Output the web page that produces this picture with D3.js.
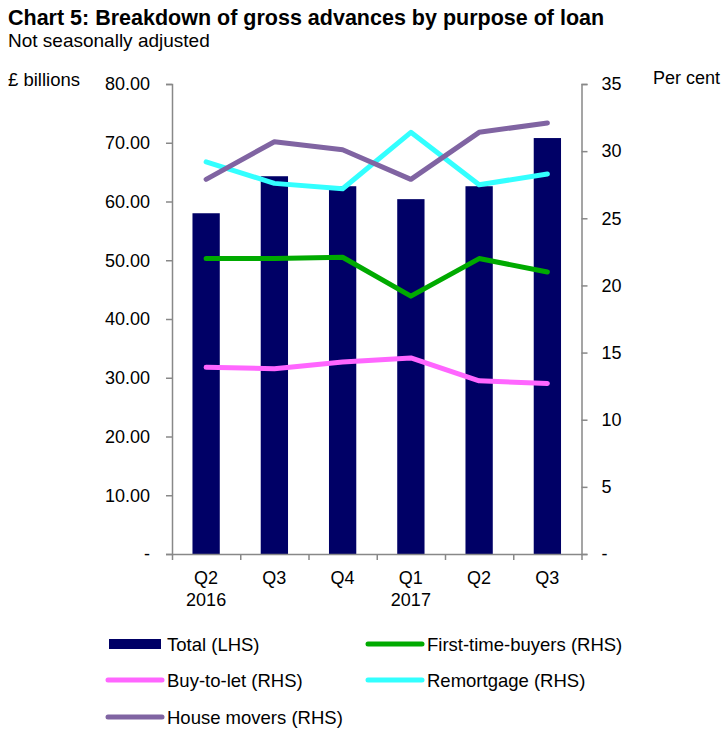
<!DOCTYPE html>
<html>
<head>
<meta charset="utf-8">
<script src="https://cdn.jsdelivr.net/npm/d3@7"></script>
<style>
  body { margin: 0; background: #fff; }
  text { font-family: "Liberation Sans", Arial, sans-serif; fill: #000; }
</style>
</head>
<body>
<div id="chart"></div>
<script>
// quarters on the x axis
var quarters = ["Q2 2016", "Q3 2016", "Q4 2016", "Q1 2017", "Q2 2017", "Q3 2017"];
var quarterLabels = ["Q2", "Q3", "Q4", "Q1", "Q2", "Q3"];
var yearLabels = ["2016", "", "", "2017", "", ""];

// Total gross advances, £ billions (LHS)
var total = [58.0, 64.3, 62.6, 60.4, 62.6, 70.8];

// shares by purpose, per cent (RHS)
var firstTimeBuyers = [22.0, 22.0, 22.1, 19.2, 22.0, 21.0];
var buyToLet = [13.9, 13.8, 14.3, 14.6, 12.9, 12.7];
var remortgage = [29.2, 27.6, 27.2, 31.4, 27.5, 28.3];
var houseMovers = [27.9, 30.7, 30.1, 27.9, 31.4, 32.1];

var leftTicks = [0, 10, 20, 30, 40, 50, 60, 70, 80];
var rightTicks = [0, 5, 10, 15, 20, 25, 30, 35];

var width = 724, height = 729;
var plot = { left: 172, right: 581.5, top: 84, bottom: 554 };

var svg = d3.select("#chart").append("svg")
    .attr("width", width)
    .attr("height", height);

// titles
svg.append("text").attr("x", 8).attr("y", 25)
    .style("font-size", "21.5px").style("font-weight", "bold")
    .text("Chart 5: Breakdown of gross advances by purpose of loan");
svg.append("text").attr("x", 8).attr("y", 47)
    .style("font-size", "19px")
    .text("Not seasonally adjusted");
svg.append("text").attr("x", 8).attr("y", 86)
    .style("font-size", "18.5px").text("£ billions");
svg.append("text").attr("x", 653).attr("y", 84)
    .style("font-size", "18px").text("Per cent");

// scales
var x = d3.scaleBand().domain(quarters).range([plot.left, plot.right]);
var yLeft = d3.scaleLinear().domain([0, 80]).range([plot.bottom, plot.top]);
var yRight = d3.scaleLinear().domain([0, 35]).range([plot.bottom, plot.top]);

// bars
svg.append("g").selectAll("rect")
    .data(total)
    .enter().append("rect")
    .attr("x", function(d, i) { return x(quarters[i]) + x.bandwidth() * 0.3; })
    .attr("width", x.bandwidth() * 0.4)
    .attr("y", function(d) { return yLeft(d); })
    .attr("height", function(d) { return yLeft(0) - yLeft(d); })
    .attr("fill", "#000066");

// lines
var series = [
    { name: "First-time-buyers (RHS)", values: firstTimeBuyers, color: "#00AA00" },
    { name: "Buy-to-let (RHS)", values: buyToLet, color: "#FF66FF" },
    { name: "Remortgage (RHS)", values: remortgage, color: "#33FFFF" },
    { name: "House movers (RHS)", values: houseMovers, color: "#8064A2" }
];

var line = d3.line()
    .x(function(d, i) { return x(quarters[i]) + x.bandwidth() / 2; })
    .y(function(d) { return yRight(d); });

series.forEach(function(s) {
    svg.append("path")
        .datum(s.values)
        .attr("d", line)
        .attr("fill", "none")
        .attr("stroke", s.color)
        .attr("stroke-width", 5)
        .attr("stroke-linecap", "round")
        .attr("stroke-linejoin", "round");
});

// axes
function styleAxis(g) {
    g.select(".domain").attr("stroke", "#888").attr("stroke-width", 1.5);
    g.selectAll(".tick line").attr("stroke", "#888").attr("stroke-width", 1.5);
    g.selectAll(".tick text").style("font-size", "18px")
        .style("font-family", "'Liberation Sans', Arial, sans-serif").attr("fill", "#000");
}

var leftAxis = d3.axisLeft(yLeft).tickValues(leftTicks)
    .tickSize(6).tickSizeOuter(6).tickPadding(16)
    .tickFormat(function(d) { return d === 0 ? "-" : d3.format(".2f")(d); });
svg.append("g")
    .attr("transform", "translate(" + plot.left + ",0)")
    .call(leftAxis)
    .call(styleAxis);

var rightAxis = d3.axisRight(yRight).tickValues(rightTicks)
    .tickSize(6).tickSizeOuter(6).tickPadding(14)
    .tickFormat(function(d) { return d === 0 ? "-" : d; });
svg.append("g")
    .attr("transform", "translate(" + plot.right + ",0)")
    .call(rightAxis)
    .call(styleAxis);

// x axis: ticks on the band edges
var xTickScale = d3.scaleLinear().domain([0, quarters.length]).range([plot.left, plot.right]);
var xAxis = d3.axisBottom(xTickScale).tickValues(d3.range(0, quarters.length + 1))
    .tickSize(6).tickSizeOuter(0).tickFormat("");
svg.append("g")
    .attr("transform", "translate(0," + plot.bottom + ")")
    .call(xAxis)
    .call(styleAxis);

var xl = svg.append("g");
xl.selectAll(".q").data(quarterLabels).enter().append("text")
    .attr("x", function(d, i) { return x(quarters[i]) + x.bandwidth() / 2; })
    .attr("y", 584).attr("text-anchor", "middle")
    .style("font-size", "18px").text(function(d) { return d; });
xl.selectAll(".yr").data(yearLabels).enter().append("text")
    .attr("x", function(d, i) { return x(quarters[i]) + x.bandwidth() / 2; })
    .attr("y", 606).attr("text-anchor", "middle")
    .style("font-size", "18px").text(function(d) { return d; });

// legend
var legendItems = [
    { name: "Total (LHS)", color: "#000066", bar: true, col: 0, row: 0 },
    { name: series[0].name, color: series[0].color, col: 1, row: 0 },
    { name: series[1].name, color: series[1].color, col: 0, row: 1 },
    { name: series[2].name, color: series[2].color, col: 1, row: 1 },
    { name: series[3].name, color: series[3].color, col: 0, row: 2 }
];
var colX = [108, 368], rowY = [644, 680, 717];
var lg = svg.append("g");
legendItems.forEach(function(it) {
    var lx = colX[it.col], ly = rowY[it.row];
    if (it.bar) {
        lg.append("rect").attr("x", lx + 1).attr("y", ly - 5)
            .attr("width", 52).attr("height", 10).attr("fill", it.color);
    } else {
        lg.append("line").attr("x1", lx).attr("x2", lx + 54)
            .attr("y1", ly).attr("y2", ly)
            .attr("stroke", it.color).attr("stroke-width", 5)
            .attr("stroke-linecap", "round");
    }
    lg.append("text").attr("x", lx + 59).attr("y", ly + 6.5)
        .style("font-size", "18.5px").text(it.name);
});
</script>
</body>
</html>
